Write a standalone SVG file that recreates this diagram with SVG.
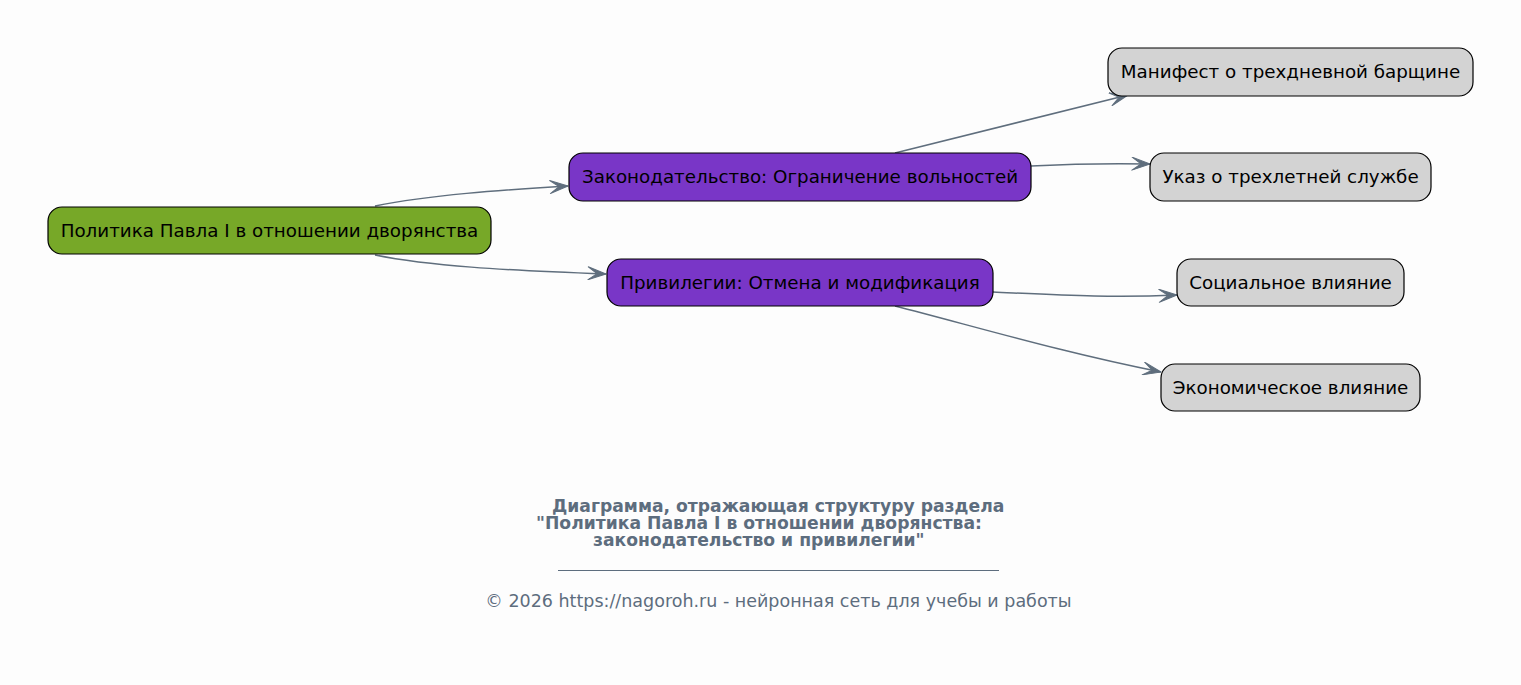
<svg xmlns="http://www.w3.org/2000/svg" width="1521" height="685" viewBox="0 0 1521 685">
<defs>
<marker id="arr" viewBox="0 0 20 14" refX="19" refY="7" markerWidth="20" markerHeight="14" markerUnits="userSpaceOnUse" orient="auto">
<path d="M19,7 L1,0.5 L10,7 L1,13.5 Z" fill="#5f6e7d" stroke="#5f6e7d" stroke-width="1" stroke-linejoin="round"/>
</marker>
<style>
.n{stroke:#000;stroke-width:1.2}
.t{font-family:"DejaVu Sans",sans-serif;font-size:18.3px;fill:#000;text-anchor:middle}
.e{fill:none;stroke:#5f6e7d;stroke-width:1.5;marker-end:url(#arr)}
.ti{font-family:"DejaVu Sans",sans-serif;font-size:17.2px;font-weight:bold;fill:#5d6d7e}
.cp{font-family:"DejaVu Sans",sans-serif;font-size:17.5px;fill:#5d6d7e;text-anchor:middle}
</style>
</defs>
<rect width="1521" height="685" fill="#fdfdfd"/>
<g id="edges">
<path class="e" d="M375,206 C430,195 500,190 568,186"/>
<path class="e" d="M375,255 C430,266 500,270 606,274"/>
<path class="e" d="M895,153 C960,137 1040,117 1128,95"/>
<path class="e" d="M1031,166 C1070,164 1100,163 1150,164"/>
<path class="e" d="M993,292 C1060,295 1110,298 1177,295"/>
<path class="e" d="M895,306 C970,325 1060,352 1161,372"/>
</g>
<g id="root"><rect class="n" x="48" y="207" width="443" height="47" rx="14" fill="#77a828"/><text class="t" x="269.5" y="237">Политика Павла I в отношении дворянства</text></g>
<g id="zakon"><rect class="n" x="569" y="153" width="462" height="48" rx="14" fill="#7936c7"/><text class="t" x="800" y="183">Законодательство: Ограничение вольностей</text></g>
<g id="privil"><rect class="n" x="607" y="259" width="386" height="47" rx="14" fill="#7936c7"/><text class="t" x="800" y="289">Привилегии: Отмена и модификация</text></g>
<g id="manifest"><rect class="n" x="1108" y="48" width="365" height="48" rx="14" fill="#d3d3d3"/><text class="t" x="1290.5" y="78">Манифест о трехдневной барщине</text></g>
<g id="ukaz"><rect class="n" x="1150" y="153" width="281" height="48" rx="14" fill="#d3d3d3"/><text class="t" x="1290.5" y="183">Указ о трехлетней службе</text></g>
<g id="social"><rect class="n" x="1177" y="259" width="227" height="47" rx="14" fill="#d3d3d3"/><text class="t" x="1290.5" y="289">Социальное влияние</text></g>
<g id="econ"><rect class="n" x="1161" y="364" width="259" height="47" rx="14" fill="#d3d3d3"/><text class="t" x="1290.5" y="394">Экономическое влияние</text></g>
<g id="caption">
<text class="ti" x="552" y="512">Диаграмма, отражающая структуру раздела</text>
<text class="ti" x="536" y="529">"Политика Павла I в отношении дворянства:</text>
<text class="ti" x="593" y="546">законодательство и привилегии"</text>
<line x1="558" y1="570.5" x2="999" y2="570.5" stroke="#5d6d7e" stroke-width="1"/>
<text class="cp" x="778.5" y="607">© 2026 https://nagoroh.ru - нейронная сеть для учебы и работы</text>
</g>
</svg>
